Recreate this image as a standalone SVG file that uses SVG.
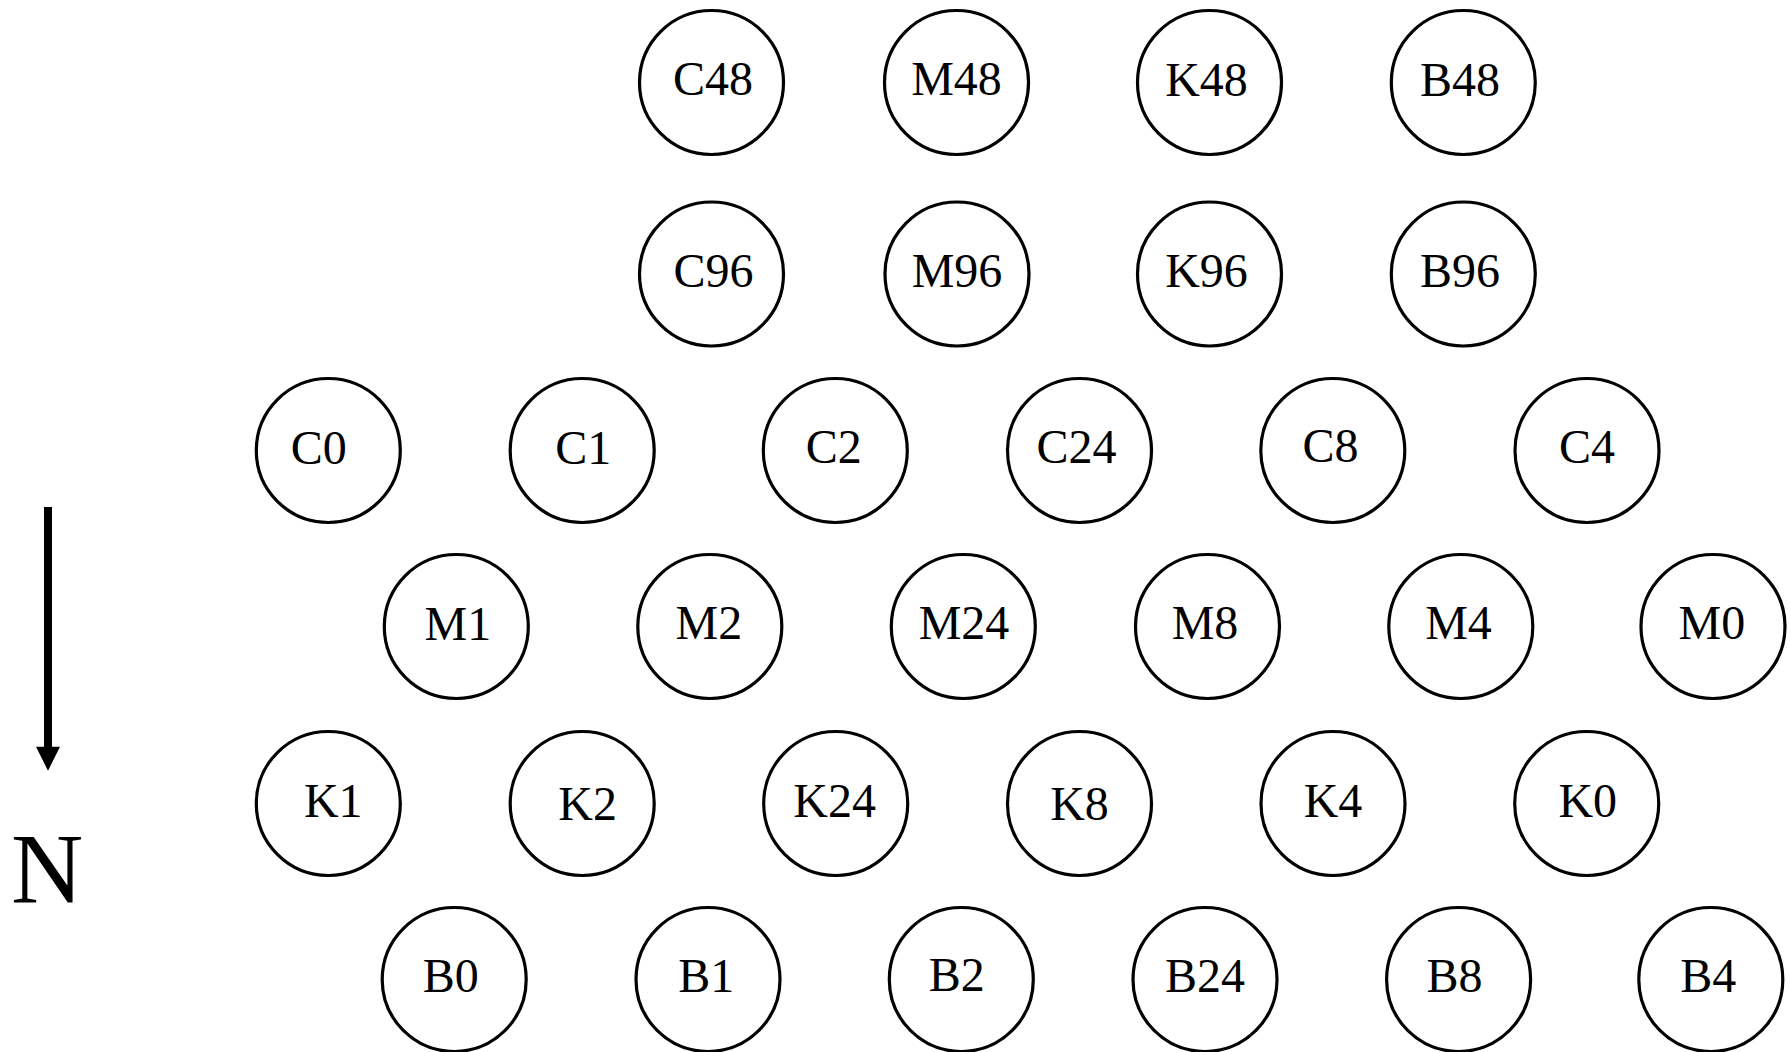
<svg xmlns="http://www.w3.org/2000/svg" width="1791" height="1052" viewBox="0 0 1791 1052">
<style>
.n circle{fill:#fff;stroke:#000;stroke-width:3.2}
.n text{font-family:"Liberation Serif","Times New Roman",serif;font-size:48px;text-anchor:middle;fill:#000}
.lbl{font-family:"Liberation Serif","Times New Roman",serif;font-size:100px;text-anchor:middle;fill:#000}
</style>
<rect width="1791" height="1052" fill="#fff"/>
<g id="connectors">
<line x1="48" y1="507" x2="48" y2="748" stroke="#000" stroke-width="8"/>
<polygon points="36,746.7 60,746.7 48,770.7" fill="#000"/>
</g>
<text class="lbl" x="47" y="902">N</text>
<g id="C48" class="n"><circle cx="711.5" cy="82.5" r="72"/><text x="713" y="95">C48</text></g>
<g id="M48" class="n"><circle cx="956.5" cy="82.5" r="72"/><text x="956.5" y="95">M48</text></g>
<g id="K48" class="n"><circle cx="1209.5" cy="82.5" r="72"/><text x="1206.5" y="95.5">K48</text></g>
<g id="B48" class="n"><circle cx="1463.3" cy="82.5" r="72"/><text x="1460" y="95.5">B48</text></g>
<g id="C96" class="n"><circle cx="711.5" cy="274" r="72"/><text x="713.5" y="286.5">C96</text></g>
<g id="M96" class="n"><circle cx="957" cy="274" r="72"/><text x="957" y="286.5">M96</text></g>
<g id="K96" class="n"><circle cx="1209.5" cy="274" r="72"/><text x="1206.5" y="286.5">K96</text></g>
<g id="B96" class="n"><circle cx="1463.3" cy="274" r="72"/><text x="1460" y="286.5">B96</text></g>
<g id="C0" class="n"><circle cx="328.3" cy="450.5" r="72"/><text x="318.8" y="463.5">C0</text></g>
<g id="C1" class="n"><circle cx="582.2" cy="450.5" r="72"/><text x="583.3" y="463.5">C1</text></g>
<g id="C2" class="n"><circle cx="835.3" cy="450.5" r="72"/><text x="833.7" y="462.5">C2</text></g>
<g id="C24" class="n"><circle cx="1079.5" cy="450.5" r="72"/><text x="1076.5" y="462.5">C24</text></g>
<g id="C8" class="n"><circle cx="1332.8" cy="450.5" r="72"/><text x="1330.5" y="462">C8</text></g>
<g id="C4" class="n"><circle cx="1587" cy="450.5" r="72"/><text x="1587" y="462.5">C4</text></g>
<g id="M1" class="n"><circle cx="456.3" cy="626.5" r="72"/><text x="457.8" y="639.5">M1</text></g>
<g id="M2" class="n"><circle cx="709.8" cy="626.5" r="72"/><text x="708.8" y="639">M2</text></g>
<g id="M24" class="n"><circle cx="963.3" cy="626.5" r="72"/><text x="964" y="639">M24</text></g>
<g id="M8" class="n"><circle cx="1207.5" cy="626.5" r="72"/><text x="1205" y="639">M8</text></g>
<g id="M4" class="n"><circle cx="1460.8" cy="626.5" r="72"/><text x="1458.5" y="639">M4</text></g>
<g id="M0" class="n"><circle cx="1713" cy="626.5" r="72"/><text x="1711.8" y="639">M0</text></g>
<g id="K1" class="n"><circle cx="328.3" cy="803.5" r="72"/><text x="333.3" y="817.2">K1</text></g>
<g id="K2" class="n"><circle cx="582.2" cy="803.5" r="72"/><text x="587.7" y="819.5">K2</text></g>
<g id="K24" class="n"><circle cx="835.7" cy="803.5" r="72"/><text x="834.7" y="817.2">K24</text></g>
<g id="K8" class="n"><circle cx="1079.5" cy="803.5" r="72"/><text x="1079.5" y="819.5">K8</text></g>
<g id="K4" class="n"><circle cx="1333" cy="803.5" r="72"/><text x="1333" y="817">K4</text></g>
<g id="K0" class="n"><circle cx="1586.7" cy="803.5" r="72"/><text x="1587.8" y="816.5">K0</text></g>
<g id="B0" class="n"><circle cx="454.2" cy="979.5" r="72"/><text x="450.8" y="992.2">B0</text></g>
<g id="B1" class="n"><circle cx="708" cy="979.5" r="72"/><text x="706.2" y="992.2">B1</text></g>
<g id="B2" class="n"><circle cx="961.3" cy="979.5" r="72"/><text x="956.7" y="991.2">B2</text></g>
<g id="B24" class="n"><circle cx="1205" cy="979.5" r="72"/><text x="1205" y="991.5">B24</text></g>
<g id="B8" class="n"><circle cx="1458.6" cy="979.5" r="72"/><text x="1454.5" y="991.5">B8</text></g>
<g id="B4" class="n"><circle cx="1710.8" cy="979.5" r="72"/><text x="1708.3" y="992.2">B4</text></g>
</svg>
